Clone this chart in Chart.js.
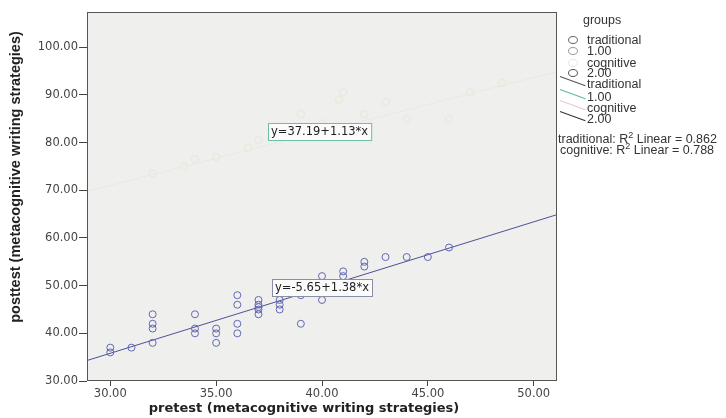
<!DOCTYPE html>
<html>
<head>
<meta charset="utf-8">
<script src="https://cdn.jsdelivr.net/npm/chart.js@4.4.1/dist/chart.umd.min.js"></script>
<style>
  html, body { margin: 0; padding: 0; background: #fff; }
  #wrap { position: relative; width: 726px; height: 418px; overflow: hidden; }
  #legend { position: absolute; left: 0; top: 0; font-family: 'Liberation Sans', Arial, sans-serif; font-size: 12.5px; color: #333; }
  #legend div { position: absolute; white-space: nowrap; line-height: 12px; }
  .dot { position: absolute; width: 10px; height: 8px; border-radius: 50%; border: 1px solid #666; box-sizing: border-box; }
  .seg { position: absolute; width: 27px; height: 0; border-top: 1px solid #444; transform: rotate(20deg); transform-origin: left center; }
</style>
</head>
<body>
<div id="wrap">
  <canvas id="chart" width="726" height="418"></canvas>
  <div id="legend"></div>
</div>
<script>
// pretest / posttest scores
const tradX = [30, 30, 31, 32, 32, 32, 32, 34, 34, 34, 35, 35, 35, 36, 36, 36, 36,
               37, 37, 37, 37, 37, 38, 38, 38, 39, 39, 40, 40, 41, 41, 42, 42, 43, 44, 45, 46];
const tradY = [37, 36, 37, 44, 42, 41, 38, 44, 41, 40, 41, 40, 38, 48, 46, 42, 40,
               47, 46, 45.5, 45, 44, 47, 46, 45, 48, 42, 52, 47, 53, 52, 55, 54, 56, 56, 56, 58];

// cognitive group is drawn almost white in the source
const cogX = [32, 33.5, 34, 35, 36.5, 37, 38, 38.5, 39, 40, 40.8, 41, 42, 43, 44, 46, 47, 48.5];
const cogY = [73.5, 75, 76.5, 77, 79, 80.5, 81, 82, 86, 84, 89, 90.5, 86, 88.5, 85, 85, 90.5, 92.5];

// fit line ends at the plot edges
const fitX = [28.9, 51.1];
const tradFitY = [34.3, 64.9];
const cogFitY = [69.8, 94.9];

const xTicks = [30, 35, 40, 45, 50];
const yTicks = [30, 40, 50, 60, 70, 80, 90, 100];

const xTitle = 'pretest (metacognitive writing strategies)';
const yTitle = 'posttest (metacognitive writing strategies)';

const fitLabels = [
  { text: 'y=37.19+1.13*x', x: 37.45, y: 84.1, border: '#6cbf9f' },
  { text: 'y=-5.65+1.38*x', x: 37.64, y: 51.4, border: '#8a8fa8' }
];

const toPts = (xs, ys) => xs.map((x, i) => ({ x: x, y: ys[i] }));

// plot background, frame, equation boxes and axis titles
const framePlugin = {
  id: 'frame',
  beforeDraw(chart) {
    const { ctx, chartArea: a } = chart;
    ctx.save();
    ctx.fillStyle = '#efefed';
    ctx.fillRect(a.left, a.top, a.width, a.height);
    ctx.restore();
  },
  afterDatasetsDraw(chart) {
    const { ctx, chartArea: a, scales } = chart;
    ctx.save();
    ctx.strokeStyle = '#555';
    ctx.lineWidth = 1;
    ctx.strokeRect(a.left + 0.5, a.top + 0.5, a.width - 1, a.height - 1);
    ctx.font = '11.5px "DejaVu Sans", Verdana, sans-serif';
    ctx.textBaseline = 'middle';
    fitLabels.forEach(l => {
      const px = Math.round(scales.x.getPixelForValue(l.x));
      const py = Math.round(scales.y.getPixelForValue(l.y));
      const w = ctx.measureText(l.text).width + 6;
      ctx.fillStyle = '#fbfbfb';
      ctx.fillRect(px, py, w, 17);
      ctx.strokeStyle = l.border;
      ctx.strokeRect(px + 0.5, py + 0.5, w, 17);
      ctx.fillStyle = '#222';
      ctx.fillText(l.text, px + 3, py + 9);
    });
    // axis titles sit a little off-centre in the source
    ctx.fillStyle = '#222';
    ctx.textAlign = 'center';
    ctx.font = 'bold 13px "DejaVu Sans", Verdana, sans-serif';
    ctx.fillText(xTitle, 304, 409);
    ctx.translate(16, 177);
    ctx.rotate(-Math.PI / 2);
    ctx.font = 'bold 14.5px "Liberation Sans", Arial, sans-serif';
    ctx.fillText(yTitle, 0, 0);
    ctx.restore();
  }
};

const tickFont = { family: '"DejaVu Sans", Verdana, sans-serif', size: 11.5 };

new Chart(document.getElementById('chart'), {
  type: 'scatter',
  data: {
    datasets: [
      {
        label: 'cognitive fit',
        type: 'line',
        data: toPts(fitX, cogFitY),
        borderColor: '#f0e7e4',
        borderWidth: 1,
        pointRadius: 0,
        order: 4
      },
      {
        label: 'cognitive',
        data: toPts(cogX, cogY),
        pointRadius: 3.5,
        pointBorderWidth: 1.5,
        borderColor: 'rgba(234,231,216,0.75)',
        backgroundColor: 'transparent',
        order: 3
      },
      {
        label: 'traditional fit',
        type: 'line',
        data: toPts(fitX, tradFitY),
        borderColor: '#4d5198',
        borderWidth: 1,
        pointRadius: 0,
        order: 2
      },
      {
        label: 'traditional',
        data: toPts(tradX, tradY),
        pointRadius: 3.5,
        pointBorderWidth: 1,
        borderColor: '#6268b4',
        backgroundColor: 'transparent',
        order: 1
      }
    ]
  },
  options: {
    responsive: false,
    animation: false,
    layout: { padding: { left: 4, top: 12, right: 169, bottom: 0 } },
    plugins: { legend: { display: false }, tooltip: { enabled: false } },
    scales: {
      x: {
        type: 'linear',
        min: 28.9,
        max: 51.1,
        afterBuildTicks: s => { s.ticks = xTicks.map(v => ({ value: v })); },
        afterFit: s => { s.height = 37; },
        grid: { drawOnChartArea: false, tickLength: 5, color: '#444' },
        border: { display: false },
        ticks: { font: tickFont, color: '#444', padding: 1, callback: v => Number(v).toFixed(2) }
      },
      y: {
        type: 'linear',
        min: 30,
        max: 107.4,
        afterBuildTicks: s => { s.ticks = yTicks.map(v => ({ value: v })); },
        afterFit: s => { s.width = 83; },
        grid: { drawOnChartArea: false, tickLength: 8, color: '#444' },
        border: { display: false },
        ticks: { font: tickFont, color: '#444', padding: 1, callback: v => Number(v).toFixed(2) }
      }
    }
  },
  plugins: [framePlugin]
});

// legend block at the right, as in the source
const legendRows = [
  { text: 'groups', x: 583, y: 14 },
  { text: 'traditional', x: 587, y: 34, dot: '#666' },
  { text: '1.00', x: 587, y: 45, dot: '#999' },
  { text: 'cognitive', x: 587, y: 57, dot: '#e6e6e2' },
  { text: '2.00', x: 587, y: 67, dot: '#555' },
  { text: 'traditional', x: 587, y: 78, seg: '#555' },
  { text: '1.00', x: 587, y: 91, seg: '#5fb89a' },
  { text: 'cognitive', x: 587, y: 102, seg: '#e9c8c8' },
  { text: '2.00', x: 587, y: 113, seg: '#333' },
  { html: 'traditional: R<sup style="font-size:9px">2</sup> Linear = 0.862', x: 558, y: 129 },
  { html: 'cognitive: R<sup style="font-size:9px">2</sup> Linear = 0.788', x: 560, y: 140 }
];
const legend = document.getElementById('legend');
legendRows.forEach(r => {
  const d = document.createElement('div');
  d.style.left = r.x + 'px';
  d.style.top = r.y + 'px';
  if (r.html) d.innerHTML = r.html; else d.textContent = r.text;
  legend.appendChild(d);
  if (r.dot) {
    const c = document.createElement('span');
    c.className = 'dot';
    c.style.left = (r.x - 19) + 'px';
    c.style.top = (r.y + 2) + 'px';
    c.style.borderColor = r.dot;
    legend.appendChild(c);
  }
  if (r.seg) {
    const s = document.createElement('span');
    s.className = 'seg';
    s.style.left = (r.x - 27) + 'px';
    s.style.top = (r.y - 2) + 'px';
    s.style.borderTopColor = r.seg;
    legend.appendChild(s);
  }
});
</script>
</body>
</html>
